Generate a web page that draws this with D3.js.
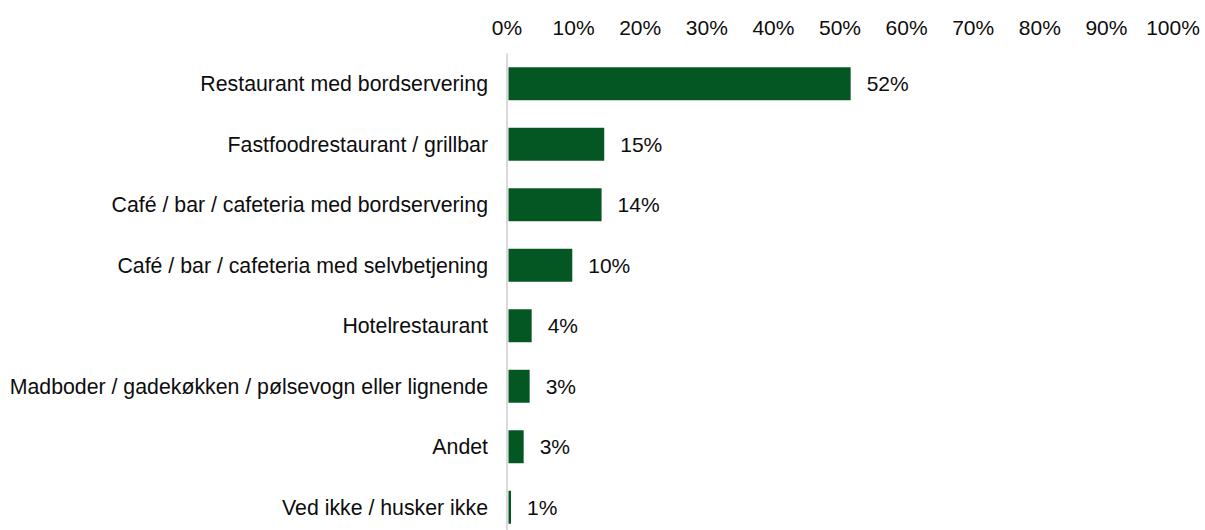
<!DOCTYPE html>
<html>
<head>
<meta charset="utf-8">
<script src="https://cdn.jsdelivr.net/npm/d3@7"></script>
<style>
  body { margin: 0; background: #fff; }
  svg text { font-family: "Liberation Sans", Arial, sans-serif; fill: #0d0d0d; }
</style>
</head>
<body>
<script>
const categories = [
    "Restaurant med bordservering",
    "Fastfoodrestaurant / grillbar",
    "Café / bar / cafeteria med bordservering",
    "Café / bar / cafeteria med selvbetjening",
    "Hotelrestaurant",
    "Madboder / gadekøkken / pølsevogn eller lignende",
    "Andet",
    "Ved ikke / husker ikke"
];
const values = [51.6, 14.6, 14.2, 9.8, 3.7, 3.4, 2.5, 0.6];
const valueLabels = ["52%", "15%", "14%", "10%", "4%", "3%", "3%", "1%"];
const ticks = [0, 10, 20, 30, 40, 50, 60, 70, 80, 90, 100];

const width = 1205, height = 530;
const fontSize = 21;

const x = d3.scaleLinear().domain([0, 100]).range([507, 1173]);
const y = d3.scaleBand().domain(categories).range([53.5, 537.5]).paddingInner(0.455).paddingOuter(0.2275);

const svg = d3.select("body").append("svg")
    .attr("width", width)
    .attr("height", height);

// top axis labels
svg.append("g")
    .selectAll("text")
    .data(ticks)
    .enter().append("text")
    .attr("x", d => x(d))
    .attr("y", 35)
    .attr("text-anchor", "middle")
    .attr("font-size", fontSize)
    .text(d => d + "%");

// bars
svg.append("g")
    .selectAll("rect")
    .data(values)
    .enter().append("rect")
    .attr("x", x(0) + 1.5)
    .attr("y", (d, i) => y(categories[i]))
    .attr("width", d => x(d) - x(0) - 1.5)
    .attr("height", y.bandwidth())
    .attr("fill", "#045722");

// vertical axis line
svg.append("line")
    .attr("x1", x(0)).attr("x2", x(0))
    .attr("y1", 53.5).attr("y2", height)
    .attr("stroke", "#d9d9d9")
    .attr("stroke-width", 2);

// category labels
svg.append("g")
    .selectAll("text")
    .data(categories)
    .enter().append("text")
    .attr("x", 488)
    .attr("y", d => y(d) + y.bandwidth() / 2)
    .attr("dy", "0.36em")
    .attr("text-anchor", "end")
    .attr("font-size", 21.3)
    .text(d => d);

// value labels
svg.append("g")
    .selectAll("text")
    .data(values)
    .enter().append("text")
    .attr("x", d => x(d) + 16)
    .attr("y", (d, i) => y(categories[i]) + y.bandwidth() / 2)
    .attr("dy", "0.36em")
    .attr("font-size", fontSize)
    .text((d, i) => valueLabels[i]);
</script>
</body>
</html>
